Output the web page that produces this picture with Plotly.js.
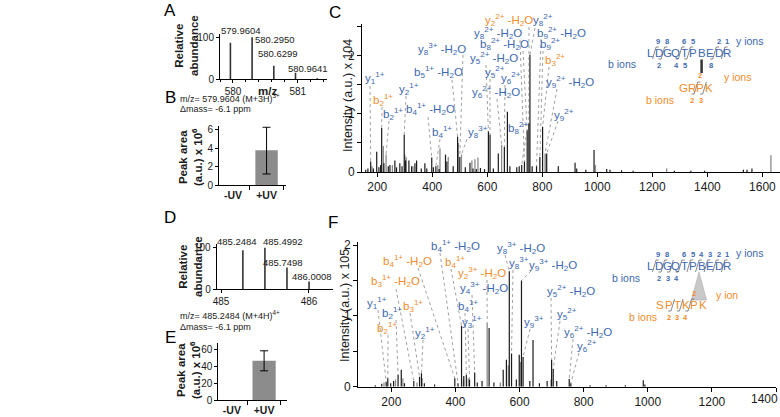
<!DOCTYPE html>
<html><head><meta charset="utf-8">
<script src="https://cdn.plot.ly/plotly-3.0.1.min.js"></script>
<style>html,body{margin:0;padding:0;background:#fff}#g{width:780px;height:417px}</style>
</head><body><div id="g"></div>
<script>
const W=780,H=417;
const FONT='"Liberation Sans", Arial, sans-serif';
const BLUE='#3d68b0', ORANGE='#f08c2a', INK='#1a1a1a';

// ---------- data ----------
const isoA_mz=[579.9604,580.2950,580.6299,580.9641,581.30];
const isoA_int=[87,100,32,15,2];
const isoA_lab=["579.9604","580.2950","580.6299","580.9641"];
const isoD_mz=[485.2484,485.4992,485.7498,486.0008];
const isoD_int=[94,100,52,18];
const isoD_lab=["485.2484","485.4992","485.7498","486.0008"];

const uvCats=["-UV","+UV"];
const areaB=[null,3.8], areaB_lo=[null,1.2], areaB_hi=[null,6.3];
const areaE=[null,47], areaE_lo=[null,35], areaE_hi=[null,59];

// Panel C spectrum (m/z, intensity x10^4)
const C_dark_mz=[158,166,176,186,198,206,212,216,224,240,246,264,270,282,290,298,303,315,325,337,343,360,373,380,398,404,413,425,448,453,476,492,500,520,537,548,560,575,590,604,610,622,640,662,673,682,707,716,725,735,745,751,755,763,779,791,801,816,858,919,925,958,988,1034,1046,1088,1130,1280,1340,1390,1531,1544,1562];
const C_dark_int=[0.04,0.06,0.18,0.06,0.35,0.08,0.12,0.76,0.15,0.1,0.12,0.2,0.08,0.15,0.1,0.64,0.2,0.2,0.1,0.15,0.2,0.06,0.15,0.06,0.25,0.08,0.1,0.05,0.3,0.18,0.1,0.61,0.26,0.08,0.16,0.06,0.05,0.07,0.05,0.7,0.64,0.06,0.32,0.43,1.04,0.1,0.08,0.1,0.12,0.18,0.72,0.84,2.02,0.1,0.1,0.26,0.78,0.32,0.1,0.16,0.06,0.04,0.38,0.05,0.04,0.03,0.02,0.02,0.02,0.02,0.04,0.04,0.06];
const C_gray_mz=[181,222,232,255,300,305,330,420,428,458,495,506,544,555,566,652,810,813,993,1252,1631];
const C_gray_int=[0.1,0.45,0.3,0.12,0.3,0.26,0.1,0.12,0.41,0.26,0.5,0.3,0.2,0.22,0.25,0.47,0.32,0.3,0.12,0.06,0.29];

// Panel F spectrum (m/z, intensity x10^5)
const F_dark_mz=[150,170,184,189,198,207,221,231,241,270,288,294,303,335,398,408,419,426,434,444,460,468,483,505,520,549,559,568,575,590,599,606,611,632,642,662,686,700,705,716,755,760,820,870,930,986,991];
const F_dark_int=[0.02,0.04,0.07,0.12,0.05,0.08,0.17,0.24,0.05,0.08,0.14,0.19,0.05,0.03,0.12,0.05,0.86,0.15,0.17,0.1,0.2,0.06,0.08,0.83,0.06,0.24,0.38,1.63,0.47,0.1,0.45,1.5,0.42,0.08,0.66,0.05,0.08,0.38,0.25,0.08,0.11,0.05,0.02,0.02,0.02,0.09,0.03];
const F_gray_mz=[177,213,236,280,296,425,440,499,540,565,603,698];
const F_gray_int=[0.06,0.1,0.12,0.06,0.12,0.1,0.12,0.9,0.06,0.3,0.35,0.1];

const C_ticks=[200,400,600,800,1000,1200,1400,1600];
const F_ticks=[200,400,600,800,1000,1200,1400];

// ---------- layout helpers ----------
const px=x=>x/W, py=y=>1-y/H;
const P={
 A:{xd:[220,327],yd:[34,79],xr:[579.8,581.45],yr:[0,108]},
 B:{xd:[219,286],yd:[126.3,185],xr:[-0.42,1.58],yr:[0,6.4]},
 C:{xd:[362,780],yd:[24,172],xr:[144.5,1664],yr:[0,2.55]},
 D:{xd:[216.7,333],yd:[244.4,289],xr:[484.951,486.273],yr:[0,108]},
 E:{xd:[218.3,287],yd:[343.3,400],xr:[-0.42,1.71],yr:[0,68]},
 F:{xd:[358,776],yd:[241.5,386.7],xr:[96,1400],yr:[0,2.05]}
};
const toDX=(p,x)=>p.xr[0]+(x-p.xd[0])/(p.xd[1]-p.xd[0])*(p.xr[1]-p.xr[0]);
const toDY=(p,y)=>p.yr[0]+(p.yd[1]-y)/(p.yd[1]-p.yd[0])*(p.yr[1]-p.yr[0]);

function axisX(p,extra){return Object.assign({domain:[px(p.xd[0]),px(p.xd[1])],range:p.xr,showline:true,linecolor:'#000',linewidth:1,
 ticks:'outside',ticklen:4,tickwidth:1,tickcolor:'#000',showgrid:false,zeroline:false,fixedrange:true,ticklabeloverflow:'allow',tickfont:{family:FONT,size:12,color:INK}},extra||{});}
function axisY(p,extra){return Object.assign({domain:[py(p.yd[1]),py(p.yd[0])],range:p.yr,showline:true,linecolor:'#000',linewidth:1,
 ticks:'outside',ticklen:4,tickwidth:1,tickcolor:'#000',showgrid:false,zeroline:false,fixedrange:true,tickfont:{family:FONT,size:12,color:INK}},extra||{});}

function sticks(mz,I){const x=[],y=[];for(let i=0;i<mz.length;i++){x.push(mz[i],mz[i],null);y.push(0,I[i],null);}return {x,y};}
function stickTrace(mz,I,color,ax,ay,w){const s=sticks(mz,I);return {type:'scatter',mode:'lines',x:s.x,y:s.y,xaxis:ax,yaxis:ay,
 line:{color:color,width:w||1.2},hoverinfo:'skip',showlegend:false};}

const traces=[];
traces.push(stickTrace(isoA_mz,isoA_int,'#333','x','y',1.6));
traces.push({type:'bar',x:uvCats,y:areaB,xaxis:'x2',yaxis:'y2',width:0.67,marker:{color:'#8c8c8c',line:{width:0}},
 error_y:{type:'data',symmetric:false,array:areaB.map((v,i)=>v==null?null:areaB_hi[i]-v),arrayminus:areaB.map((v,i)=>v==null?null:v-areaB_lo[i]),color:'#000',thickness:1,width:4},showlegend:false,hoverinfo:'skip'});
traces.push(stickTrace(C_gray_mz,C_gray_int,'#8a8a8a','x3','y3',1.3));
traces.push(stickTrace(C_dark_mz,C_dark_int,'#1a1a1a','x3','y3',1.2));
traces.push(stickTrace(isoD_mz,isoD_int,'#333','x4','y4',1.6));
traces.push({type:'bar',x:uvCats,y:areaE,xaxis:'x5',yaxis:'y5',width:0.72,marker:{color:'#8c8c8c',line:{width:0}},
 error_y:{type:'data',symmetric:false,array:areaE.map((v,i)=>v==null?null:areaE_hi[i]-v),arrayminus:areaE.map((v,i)=>v==null?null:v-areaE_lo[i]),color:'#000',thickness:1,width:4},showlegend:false,hoverinfo:'skip'});
traces.push(stickTrace(F_gray_mz,F_gray_int,'#8a8a8a','x6','y6',1.3));
traces.push(stickTrace(F_dark_mz,F_dark_int,'#1a1a1a','x6','y6',1.2));

const ann=[], shapes=[];
function T(text,x,y,o){ann.push(Object.assign({text:text,xref:'paper',yref:'paper',x:px(x),y:py(y),showarrow:false,xanchor:'center',yanchor:'middle',
 font:{family:FONT,size:12,color:INK}},o||{}));}
function Ln(x0,y0,x1,y1,color,w,dash){shapes.push({type:'line',xref:'paper',yref:'paper',x0:px(x0),y0:py(y0),x1:px(x1),y1:py(y1),line:{color:color,width:w,dash:dash||'solid'}});}

// panel letters
[['A',170,11],['B',170,97],['C',335,12],['D',170,217],['E',170,337],['F',333,222]].forEach(a=>T(a[0],a[1],a[2],{font:{family:FONT,size:17,color:'#000'}}));

// A & D isotope labels
const isoA_pos=[[240.7,30],[275,40],[278,54],[308,68]];
isoA_lab.forEach((t,i)=>T(t,isoA_pos[i][0],isoA_pos[i][1],{font:{family:FONT,size:9.5,color:INK}}));
const isoD_pos=[[237.5,242],[282.7,242],[283,262],[312,276]];
isoD_lab.forEach((t,i)=>T(t,isoD_pos[i][0],isoD_pos[i][1],{font:{family:FONT,size:9.5,color:INK}}));
T('<b>m/z</b>',267,91,{font:{family:FONT,size:11.5,color:INK}});
T('<b>Relative<br>abundance</b>',187,46,{textangle:-90,font:{family:FONT,size:11.5,color:INK}});
T('<b>Relative<br>abundance</b>',190,267,{textangle:-90,font:{family:FONT,size:11.5,color:INK}});
T('<b>Peak area<br>(a.u.) x 10<sup>6</sup></b>',190,157,{textangle:-90,font:{family:FONT,size:11.5,color:INK}});
T('<b>Peak area<br>(a.u.) x 10<sup>6</sup></b>',188,370,{textangle:-90,font:{family:FONT,size:11.5,color:INK}});
T('m/z= 579.9604 (M+3H)<sup>3+</sup>',178,98,{xanchor:'left',font:{family:FONT,size:9,color:INK}});
T('\u0394mass= -6.1 ppm',178,109,{xanchor:'left',font:{family:FONT,size:9,color:INK}});
T('m/z= 485.2484 (M+4H)<sup>4+</sup>',178,315,{xanchor:'left',font:{family:FONT,size:9,color:INK}});
T('\u0394mass= -6.1 ppm',178,327,{xanchor:'left',font:{family:FONT,size:9,color:INK}});
T('Intensity (a.u.) x 104',348,96,{textangle:-90,font:{family:FONT,size:12.5,color:INK}});
T('Intensity (a.u.) x 105',345,306,{textangle:-90,font:{family:FONT,size:12.5,color:INK}});
T('1400',764,399,{font:{family:FONT,size:12,color:INK}});

// ion labels with dotted leaders
function findPeak(mzArrs,intArrs,m){let best=null,bd=1e9;for(let k=0;k<mzArrs.length;k++)mzArrs[k].forEach((v,i)=>{const d=Math.abs(v-m);if(d<bd){bd=d;best=[v,intArrs[k][i]];}});return best;}
function ion(t){return t.replace(/([a-z])(\d)\^(\d\+)/g,'$1<sub>$2</sub><sup>$3</sup>').replace(/H2O/g,'H<sub>2</sub>O');}
const C_labels=[
 ['y1^1+',BLUE,375,78,370,86,176],['b2^1+',ORANGE,383,100,382,107,216],['b2^1+',BLUE,393,114,389,121,232],
 ['y2^1+',BLUE,409,89,406,96,298],['b4^1+ -H2O',BLUE,430,109,428,117,398],['b4^1+',BLUE,442,132,440,139,413],
 ['b5^1+ -H2O',BLUE,438,72,452,80,492],['y8^3+ -H2O',BLUE,442,49,463,55,500],['y8^3+',BLUE,478,132,467,139,506],
 ['y5^2+ -H2O',BLUE,494,58,486,65,604],['y5^2+',BLUE,495,72,490,79,610],['y6^2+ -H2O',BLUE,496,92,497,99,652],
 ['y6^2+',BLUE,511,78,505,85,662],['y8^2+ -H2O',BLUE,498,33,520,40,735],['b8^2+ -H2O',BLUE,504,44,523,51,745],
 ['y2^2+ -H2O',ORANGE,509,20,529,27,751],['y8^2+',BLUE,543,20,535,28,755],['b9^2+ -H2O',BLUE,561,33,541,39,779],
 ['b9^2+',BLUE,550,44,543,51,791],['b3^2+',ORANGE,555,60,549,67,801],['y9^2+ -H2O',BLUE,570,82,557,89,810],
 ['y9^2+',BLUE,564,115,558,121,816],['b8^2+',BLUE,518,128,527,131,725]
];
const F_labels=[
 ['y1^1+',BLUE,377,303,378,310,184],['b2^1+',BLUE,392,313,396,320,221],['b2^1+',ORANGE,387,328,388,335,189],
 ['b3^1+',ORANGE,413,306,410,313,288],['y2^1+',BLUE,425,333,423,340,294],['b3^1+ -H2O',ORANGE,395,281,396,289,270],
 ['b4^1+ -H2O',ORANGE,407,261,418,268,398],['b4^1+ -H2O',BLUE,455,246,440,253,408],['b4^1+',ORANGE,455,262,451,269,419],
 ['y2^3+ -H2O',ORANGE,482,273,487,280,499],['y4^3+ -H2O',BLUE,484,288,472,295,460],['b4^1+',BLUE,468,306,465,313,434],
 ['y3^1+',BLUE,472,322,468,329,444],['y8^3+ -H2O',BLUE,521,248,505,255,568],['y8^3+',BLUE,519,263,513,270,575],
 ['y9^3+ -H2O',BLUE,553,265,531,271,606],['y9^3+',BLUE,534,322,530,329,611],['y5^2+ -H2O',BLUE,571,291,551,298,700],
 ['y5^2+',BLUE,567,314,560,321,705],['y6^2+ -H2O',BLUE,588,332,573,339,755],['y6^2+',BLUE,587,346,579,353,760]
];
function placeLabels(list,p,ax,ay,mzs,ints){
 list.forEach(l=>{
  const pk=findPeak(mzs,ints,l[6]);
  shapes.push({type:'line',xref:ax,yref:ay,x0:toDX(p,l[4]),y0:toDY(p,l[5]),x1:pk[0],y1:pk[1],line:{color:'#777',width:0.7,dash:'dot'}});
  T(ion(l[0]),l[2],l[3],{font:{family:FONT,size:11.5,color:l[1]}});
 });
}
placeLabels(C_labels,P.C,'x3','y3',[C_dark_mz,C_gray_mz],[C_dark_int,C_gray_int]);
placeLabels(F_labels,P.F,'x6','y6',[F_dark_mz,F_gray_mz],[F_dark_int,F_gray_int]);

// peptide fragmentation diagrams
function peptide(seq,x0,step,yc,color,cuts,numColor){
 for(let i=0;i<seq.length;i++)T(seq[i],x0+i*step,yc,{font:{family:FONT,size:11.5,color:color}});
 cuts.forEach(c=>{
  const cx=x0+(c.after-0.5)*step;
  Ln(cx-1.8,yc+6,cx+1.8,yc-6,'#555',0.7);
  if(c.y!=null){Ln(cx+1.8,yc-6,cx+4.5,yc-6,'#555',0.7);T('<b>'+c.y+'</b>',cx+4,yc-12,{font:{family:FONT,size:7.5,color:numColor}});}
  if(c.b!=null){Ln(cx-1.8,yc+6,cx-4.5,yc+6,'#555',0.7);T('<b>'+c.b+'</b>',cx-4,yc+12,{font:{family:FONT,size:7.5,color:numColor}});}
 });
}
peptide('LDGQTPBEDR',650,8.6,53,BLUE,[{after:1,y:9},{after:2,y:8,b:2},{after:4,y:6,b:4},{after:5,y:5,b:5},{after:8,y:2,b:8},{after:9,y:1}],BLUE);
Ln(701.6,59.5,701.6,73,'#333',2.5);
peptide('GRPK',683,8.6,88,ORANGE,[{after:2,y:2,b:2},{after:3,b:3}],ORANGE);
T('y ions',749,41,{font:{family:FONT,size:10.5,color:BLUE}});
T('b ions',622,64,{font:{family:FONT,size:10.5,color:BLUE}});
T('y ions',737,77,{font:{family:FONT,size:10.5,color:ORANGE}});
T('b ions',660,100,{font:{family:FONT,size:10.5,color:ORANGE}});

shapes.push({type:'path',xref:'paper',yref:'paper',path:`M ${px(699)} ${py(272)} L ${px(691.5)} ${py(300)} L ${px(706.5)} ${py(300)} Z`,fillcolor:'#c9c9c9',line:{color:'#aaa',width:0.6},layer:'below'});
peptide('LDGQTPBEDR',650,8.6,266,BLUE,[{after:1,y:9},{after:2,y:8,b:2},{after:3,b:3},{after:4,y:6,b:4},{after:5,y:5},{after:6,y:4},{after:7,y:3},{after:8,y:2},{after:9,y:1}],BLUE);
peptide('SPTKPK',660,8.5,305,ORANGE,[{after:2,b:2},{after:3,b:3},{after:4,y:2,b:4}],ORANGE);
T('y ions',749,253,{font:{family:FONT,size:10.5,color:BLUE}});
T('b ions',626,278,{font:{family:FONT,size:10.5,color:BLUE}});
T('y ion',727,295,{font:{family:FONT,size:10.5,color:ORANGE}});
T('b ions',643,317,{font:{family:FONT,size:10.5,color:ORANGE}});

const f10={family:FONT,size:10,color:INK};
const layout={width:W,height:H,margin:{l:0,r:0,t:0,b:0},paper_bgcolor:'#fff',plot_bgcolor:'rgba(0,0,0,0)',showlegend:false,
 xaxis:axisX(P.A,{anchor:'y',tickmode:'array',tickvals:[580,581],tickfont:f10,ticklen:3,minor:{dtick:0.2,tick0:580,ticks:'outside',ticklen:2,tickcolor:'#000'}}),
 yaxis:axisY(P.A,{anchor:'x',tickvals:[0,100],tickfont:f10,ticklen:3}),
 xaxis2:axisX(P.B,{anchor:'y2',type:'category',tickson:'boundaries',ticklen:4,tickfont:{family:FONT,size:10.5,color:INK,weight:'bold'}}),
 yaxis2:axisY(P.B,{anchor:'x2',tickvals:[0,2,4,6],tickfont:f10,ticklen:3}),
 xaxis3:axisX(P.C,{anchor:'y3',tickvals:C_ticks}),
 yaxis3:axisY(P.C,{anchor:'x3',tickvals:[0,0.5,1,1.5,2,2.5],ticktext:['0','','1','','2',''],ticklen:4}),
 xaxis4:axisX(P.D,{anchor:'y4',tickvals:[485,486],tickfont:f10,ticklen:3}),
 yaxis4:axisY(P.D,{anchor:'x4',tickvals:[0,100],tickfont:f10,ticklen:3}),
 xaxis5:axisX(P.E,{anchor:'y5',type:'category',tickson:'boundaries',ticklen:4,tickfont:{family:FONT,size:10.5,color:INK,weight:'bold'}}),
 yaxis5:axisY(P.E,{anchor:'x5',tickvals:[0,20,40,60],tickfont:f10,ticklen:3}),
 xaxis6:axisX(P.F,{anchor:'y6',tickvals:F_ticks,ticktext:['200','400','600','800','1000','1200','']}),
 yaxis6:axisY(P.F,{anchor:'x6',tickvals:[0,0.5,1,1.5,2],ticktext:['0','','1','','2'],ticklen:4}),
 annotations:ann,shapes:shapes,bargap:0.3
};
Plotly.newPlot('g',traces,layout,{staticPlot:true,displayModeBar:false});
</script></body></html>
